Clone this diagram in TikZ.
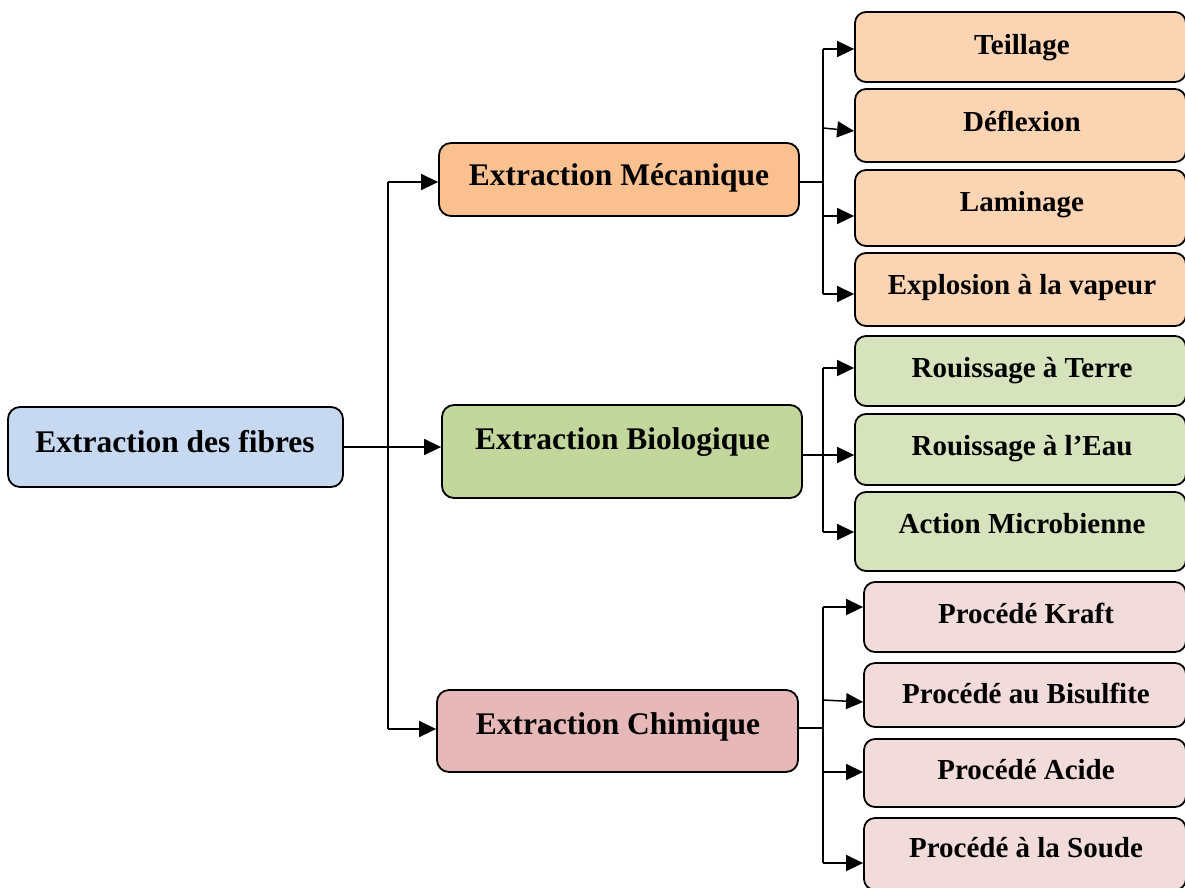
\documentclass[tikz,border=0pt]{standalone}
\usepackage{fontspec}
\setmainfont{Liberation Serif}
\usetikzlibrary{arrows.meta,calc}
\definecolor{rootc}{HTML}{C6D9F1}
\definecolor{mecc}{HTML}{FAC090}
\definecolor{mecl}{HTML}{FBD4B4}
\definecolor{bioc}{HTML}{C3D69B}
\definecolor{biol}{HTML}{D7E3BC}
\definecolor{chic}{HTML}{E6B9B8}
\definecolor{chil}{HTML}{F2DCDB}
\tikzset{
  box/.style={draw=black, line width=1.8pt, rounded corners=11pt, inner sep=0pt},
  mainbox/.style={box, rounded corners=12pt},
  leafbox/.style={box, rounded corners=11pt},
  maintxt/.style={anchor=base, inner sep=0pt, font=\fontsize{31.5}{36}\selectfont\bfseries},
  leaftxt/.style={anchor=base, inner sep=0pt, font=\fontsize{29}{33}\selectfont\bfseries},
  ln/.style={draw=black, line width=1.5pt},
  arr/.style={ln, -{Triangle[length=17pt,width=16pt]}},
}
\begin{document}
\begin{tikzpicture}[x=1pt,y=-1pt]
\useasboundingbox (0,0) rectangle (1185,887);
% main boxes
\node[mainbox, fill=rootc, minimum width=335pt, minimum height=80pt] (root) at (175.5,447) {};
\node[maintxt] (rootl) at (175,452) {Extraction des fibres};
\node[mainbox, fill=mecc, minimum width=360pt, minimum height=73pt] (mec) at (619,179.5) {};
\node[maintxt] (mecl) at (619,185) {Extraction Mécanique};
\node[mainbox, fill=bioc, minimum width=360pt, minimum height=93pt] (bio) at (622,451.5) {};
\node[maintxt] (biolab) at (622.5,449) {Extraction Biologique};
\node[mainbox, fill=chic, minimum width=361pt, minimum height=82pt] (chi) at (617.5,731) {};
\node[maintxt] (chilab) at (618,734) {Extraction Chimique};
% mechanical leaves
\node[leafbox, fill=mecl, minimum width=331pt, minimum height=70pt] (t1) at (1020.5,47) {};
\node[leaftxt] (t1l) at (1022,54) {Teillage};
\node[leafbox, fill=mecl, minimum width=331pt, minimum height=73pt] (t2) at (1020.5,125.5) {};
\node[leaftxt] (t2l) at (1022,131) {Déflexion};
\node[leafbox, fill=mecl, minimum width=331pt, minimum height=76pt] (t3) at (1020.5,208) {};
\node[leaftxt] (t3l) at (1022,211) {Laminage};
\node[leafbox, fill=mecl, minimum width=331pt, minimum height=73pt] (t4) at (1020.5,289.5) {};
\node[leaftxt] (t4l) at (1022,294) {Explosion à la vapeur};
% biological leaves
\node[leafbox, fill=biol, minimum width=331pt, minimum height=70pt] (b1) at (1020.5,371) {};
\node[leaftxt] (b1l) at (1022,377) {Rouissage à Terre};
\node[leafbox, fill=biol, minimum width=331pt, minimum height=71pt] (b2) at (1020.5,449.5) {};
\node[leaftxt] (b2l) at (1022,455) {Rouissage à l’Eau};
\node[leafbox, fill=biol, minimum width=331pt, minimum height=79pt] (b3) at (1020.5,531.5) {};
\node[leaftxt] (b3l) at (1022,533) {Action Microbienne};
% chemical leaves
\node[leafbox, fill=chil, minimum width=322pt, minimum height=70pt] (c1) at (1025,617) {};
\node[leaftxt] (c1l) at (1026,623) {Procédé Kraft};
\node[leafbox, fill=chil, minimum width=322pt, minimum height=64pt] (c2) at (1025,695) {};
\node[leaftxt] (c2l) at (1026,703) {Procédé au Bisulfite};
\node[leafbox, fill=chil, minimum width=322pt, minimum height=68pt] (c3) at (1025,773) {};
\node[leaftxt] (c3l) at (1026,779) {Procédé Acide};
\node[leafbox, fill=chil, minimum width=322pt, minimum height=72pt] (c4) at (1025,854) {};
\node[leaftxt] (c4l) at (1026,857) {Procédé à la Soude};
% trunk
\coordinate (tr) at (388,447);
\draw[arr] (root.east) -- (root.east -| bio.west);
\draw[ln] (tr |- 0,182) -- (tr |- 0,729);
\draw[arr] (tr |- 0,182) -- (mec.west |- 0,182);
\draw[arr] (tr |- 0,729) -- (chi.west |- 0,729);
% mechanical branch
\coordinate (bm) at (823,182);
\draw[ln] (mec.east |- bm) -- (bm);
\draw[ln] (bm |- 0,49) -- (bm |- 0,294);
\draw[arr] (bm |- 0,49) -- (t1.west |- 0,49);
\draw[arr] (bm |- 0,128) -- (t2.west |- 0,131);
\draw[arr] (bm |- 0,216) -- (t3.west |- 0,216);
\draw[arr] (bm |- 0,294) -- (t4.west |- 0,294);
% biological branch
\coordinate (bb) at (823,455);
\draw[ln] (bio.east |- bb) -- (bb);
\draw[ln] (bb |- 0,368) -- (bb |- 0,532);
\draw[arr] (bb |- 0,368) -- (b1.west |- 0,368);
\draw[arr] (bb) -- (b2.west |- bb);
\draw[arr] (bb |- 0,532) -- (b3.west |- 0,532);
% chemical branch
\coordinate (bc) at (823,728);
\draw[ln] (chi.east |- bc) -- (bc);
\draw[ln] (bc |- 0,607) -- (bc |- 0,863);
\draw[arr] (bc |- 0,607) -- (c1.west |- 0,607);
\draw[arr] (bc |- 0,700) -- (c2.west |- 0,702);
\draw[arr] (bc |- 0,772) -- (c3.west |- 0,772);
\draw[arr] (bc |- 0,863) -- (c4.west |- 0,863);
\end{tikzpicture}
\end{document}
